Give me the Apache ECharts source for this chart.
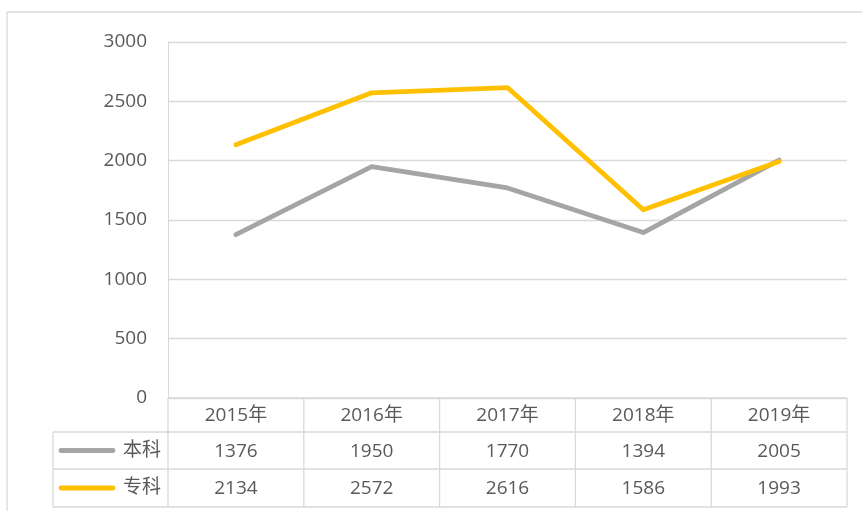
<!DOCTYPE html>
<html>
<head>
<meta charset="utf-8">
<script src="https://cdn.jsdelivr.net/npm/echarts@6/dist/echarts.min.js"></script>
<style>
  html, body { margin: 0; padding: 0; background: #fff; }
  #chart { width: 862px; height: 511px; }
</style>
</head>
<body>
<div id="chart"></div>
<script>
// Categories and series
const years = ['2015年', '2016年', '2017年', '2018年', '2019年'];
const benke = [1376, 1950, 1770, 1394, 2005];
const zhuanke = [2134, 2572, 2616, 1586, 1993];
const seriesNames = ['本科', '专科'];
const seriesColors = ['#A5A5A5', '#FFC000'];
const yTicks = [0, 500, 1000, 1500, 2000, 2500, 3000];

const FONT = '"Open Sans", "Noto Sans CJK SC", sans-serif';
const FONT_SIZE = 19;
const TEXT_COLOR = '#595959';
const GRID_COLOR = '#D9D9D9';

const chart = echarts.init(document.getElementById('chart'), null, { renderer: 'canvas' });

const option = {
  animation: false,
  backgroundColor: '#fff',
  grid: { left: 168, right: 15, top: 42, bottom: 113, containLabel: false },
  xAxis: {
    type: 'category',
    data: years,
    boundaryGap: true,
    axisLine: { show: false },
    axisTick: { show: false },
    axisLabel: { show: false },
    splitLine: { show: false }
  },
  yAxis: {
    type: 'value',
    min: yTicks[0],
    max: yTicks[yTicks.length - 1],
    interval: 500,
    axisLine: { show: true, lineStyle: { color: GRID_COLOR, width: 1 } },
    axisTick: { show: false },
    axisLabel: {
      color: TEXT_COLOR, fontFamily: FONT, fontSize: FONT_SIZE, margin: 21,
      formatter: (v) => String(v)
    },
    splitLine: { show: true, lineStyle: { color: GRID_COLOR, width: 1.3 } }
  },
  series: [
    {
      name: seriesNames[0], type: 'line', data: benke,
      symbol: 'none', lineStyle: { color: seriesColors[0], width: 4.8, cap: 'round', join: 'round' }
    },
    {
      name: seriesNames[1], type: 'line', data: zhuanke,
      symbol: 'none', lineStyle: { color: seriesColors[1], width: 4.8, cap: 'round', join: 'round' }
    }
  ]
};
chart.setOption(option);

// Data table beneath the plot, laid out from the category axis positions
function buildTable() {
  const p0 = chart.convertToPixel({ gridIndex: 0 }, [0, 0]);
  const p1 = chart.convertToPixel({ gridIndex: 0 }, [1, 0]);
  const band = p1[0] - p0[0];
  const left = p0[0] - band / 2;
  const right = left + band * years.length;
  const top = p0[1];
  const rowH = [34, 37, 38];
  const rowY = [top, top + rowH[0], top + rowH[0] + rowH[1], top + rowH[0] + rowH[1] + rowH[2]];
  const keyLeft = 53;
  const line = { stroke: GRID_COLOR, lineWidth: 1.3 };
  const els = [];

  // outer frame of the chart area
  els.push({ type: 'line', shape: { x1: 7, y1: 12, x2: 862, y2: 12 }, style: line, silent: true });
  els.push({ type: 'line', shape: { x1: 7, y1: 12, x2: 7, y2: 511 }, style: line, silent: true });

  // horizontal rules
  els.push({ type: 'line', shape: { x1: left, y1: rowY[0], x2: right, y2: rowY[0] }, style: line });
  for (let r = 1; r < rowY.length; r++) {
    els.push({ type: 'line', shape: { x1: keyLeft, y1: rowY[r], x2: right, y2: rowY[r] }, style: line });
  }
  // vertical rules
  els.push({ type: 'line', shape: { x1: keyLeft, y1: rowY[1], x2: keyLeft, y2: rowY[3] }, style: line });
  for (let c = 0; c <= years.length; c++) {
    const x = left + band * c;
    els.push({ type: 'line', shape: { x1: x, y1: rowY[0], x2: x, y2: rowY[3] }, style: line });
  }

  const textStyle = (txt, x, y, align) => ({
    type: 'text',
    style: {
      text: txt, x: x, y: y, fill: TEXT_COLOR, font: FONT_SIZE + 'px ' + FONT,
      align: align || 'center', verticalAlign: 'middle'
    }
  });

  // header row: categories
  years.forEach((yr, i) => {
    els.push(textStyle(yr, left + band * (i + 0.5), (rowY[0] + rowY[1]) / 2 + 1));
  });

  // series rows: legend key + values
  [benke, zhuanke].forEach((vals, s) => {
    const cy = (rowY[s + 1] + rowY[s + 2]) / 2;
    els.push({
      type: 'line',
      shape: { x1: 61, y1: cy, x2: 113, y2: cy },
      style: { stroke: seriesColors[s], lineWidth: 4.8, lineCap: 'round' }
    });
    els.push(textStyle(seriesNames[s], left - 7, cy, 'right'));
    vals.forEach((v, i) => {
      els.push(textStyle(String(v), left + band * (i + 0.5), cy + 1));
    });
  });

  chart.setOption({ graphic: { elements: els } });
}
buildTable();
</script>
</body>
</html>
